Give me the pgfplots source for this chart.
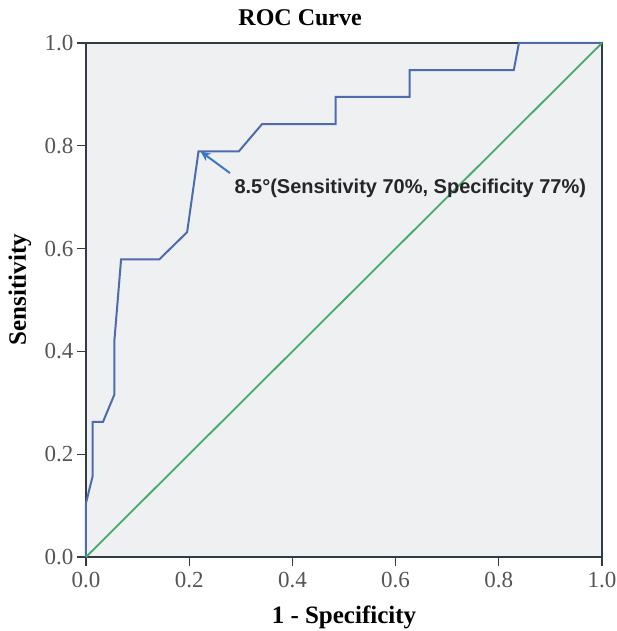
\documentclass[border=0pt]{standalone}
\usepackage{fontspec}
\setmainfont{Liberation Serif}
\newfontfamily\annofont{Liberation Sans}
\usepackage{pgfplots}
\pgfplotsset{compat=1.18}
\usetikzlibrary{arrows.meta}

\definecolor{plotbg}{RGB}{238,240,241}
\definecolor{roc}{RGB}{78,108,172}
\definecolor{refline}{RGB}{70,170,110}
\definecolor{arrowblue}{RGB}{60,120,200}
\definecolor{frame}{RGB}{50,60,70}
\definecolor{ticktext}{RGB}{85,85,85}

\begin{document}
\begin{tikzpicture}
  \begin{axis}[
      width=516pt, height=514pt, scale only axis,
      xmin=0, xmax=1, ymin=0, ymax=1,
      axis background/.style={fill=plotbg},
      axis line style={frame, line width=1.4pt},
      xtick={0,0.2,0.4,0.6,0.8,1}, ytick={0,0.2,0.4,0.6,0.8,1},
      tick align=outside, major tick length=9pt,
      tick style={frame, line width=1.2pt},
      xtick pos=bottom, ytick pos=left,
      /pgf/number format/fixed, /pgf/number format/fixed zerofill,
      /pgf/number format/precision=1,
      /pgf/number format/assume math mode=true,
      tick label style={font=\fontsize{23}{26}\selectfont, text=ticktext},
      xticklabel style={yshift=-3pt},
      title={ROC Curve},
      title style={font=\fontsize{24}{28}\selectfont\bfseries,
        at={(0.415,1)}, anchor=base, yshift=11pt},
      xlabel={1 - Specificity},
      xlabel style={font=\fontsize{25}{28}\selectfont\bfseries,
        at={(0.5,0)}, anchor=base, yshift=-66pt},
      ylabel={Sensitivity},
      ylabel style={font=\fontsize{25}{28}\selectfont\bfseries,
        at={(-0.128,0.52)}, anchor=center},
      clip=false,
    ]
    % ROC curve
    \addplot[roc, line width=2pt] coordinates {
      (0,0) (0,0.105) (0.013,0.158) (0.013,0.263) (0.033,0.263)
      (0.055,0.316) (0.055,0.421) (0.068,0.579) (0.142,0.579)
      (0.196,0.632) (0.218,0.789) (0.296,0.789) (0.341,0.842)
      (0.484,0.842) (0.484,0.895) (0.627,0.895) (0.627,0.947)
      (0.829,0.947) (0.839,1) (1,1)};
    % reference line
    \addplot[refline, line width=1.8pt] coordinates {(0,0) (1,1)};

    \draw[arrowblue, line width=2pt, -{Stealth[length=10pt,width=9pt]}]
      (axis cs:0.279,0.747) -- (axis cs:0.222,0.789);
    \node[anchor=west, font=\annofont\fontsize{20}{23}\selectfont\bfseries,
      text=black!85] at (axis cs:0.281,0.717)
      {8.5°(Sensitivity 70\%, Specificity 77\%)};
  \end{axis}
  \pgfresetboundingbox
  \path ([shift={(-86pt,-74pt)}]current axis.south west)
    rectangle ([shift={(15pt,43pt)}]current axis.north east);
\end{tikzpicture}
\end{document}
